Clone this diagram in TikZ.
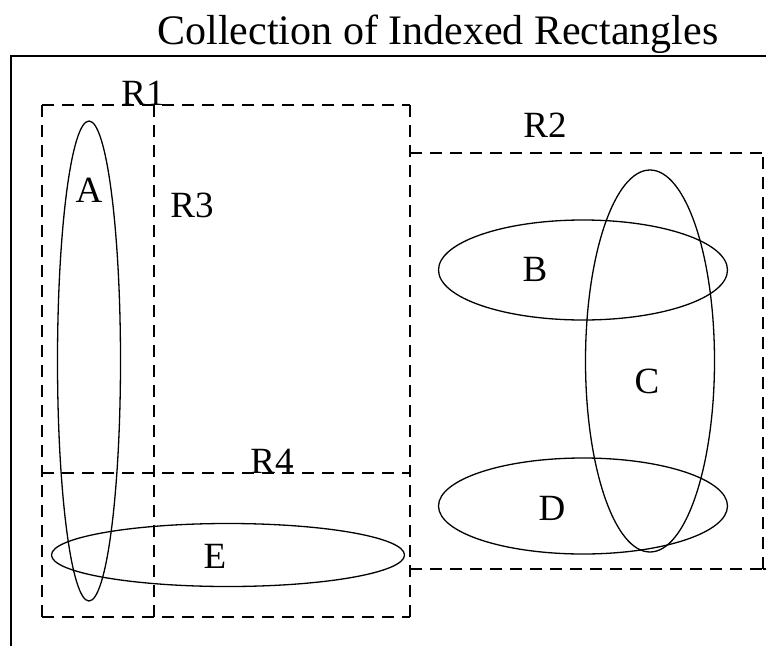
\documentclass[tikz,border=0pt]{standalone}
\usepackage{fontspec}
\setmainfont{Liberation Serif}
\usepackage{tikz}
\usetikzlibrary{shapes.geometric, positioning}
% dashed box drawn edge by edge, every edge from its left or lower end
\newcommand{\regionbox}[5][]{%
  \draw[region, #1] (#2,#5) -- (#2,#3);
  \draw[region] (#4,#5) -- (#4,#3);
  \draw[region] (#2,#3) -- (#4,#3);
  \draw[region] (#2,#5) -- (#4,#5);
}

\begin{document}
\begin{tikzpicture}[x=1pt, y=-1pt,
    region/.style={dash pattern=on 12pt off 8pt, line width=1.2pt},
    blob/.style={draw, ellipse, line width=1.3pt, inner sep=0pt},
    tag/.style={anchor=base, inner sep=0pt, font=\fontsize{37}{40}\selectfont}]
    \useasboundingbox (0,0) rectangle (766,646);
    \node[anchor=base, inner sep=0pt, font=\fontsize{42}{46}\selectfont] (title) at (438,44) {Collection of Indexed Rectangles};
    \draw[line width=1.2pt] (11,646) |- (766,56);
    % rectangles
    \regionbox{42}{105}{410}{617}
    \regionbox{42}{105}{154}{617}
    \regionbox{42}{473}{410}{617}
    \regionbox[dash phase=8pt]{410}{153}{763}{569}
    \draw[region] (763,569) -- (766,569);
    \node[tag] (r1lab) at (143,105) {R1};
    \node[tag] (r2lab) at (545,137) {R2};
    \node[tag] (r3lab) at (192,217) {R3};
    \node[tag] (r4lab) at (272,473) {R4};
    % objects
    \node[blob, minimum width=63, minimum height=480] (a) at (89,361) {};
    \node[blob, minimum width=353, minimum height=63] (e) at (228,555) {};
    \node[blob, minimum width=289, minimum height=100] (b) at (583,270) {};
    \node[blob, minimum width=129, minimum height=382] (c) at (650,361) {};
    \node[blob, minimum width=289, minimum height=96] (d) at (583,506) {};
    \node[tag] (alab) at (89,202) {A};
    \node[tag] (blab) at (535,281) {B};
    \node[tag] (clab) at (647,393) {C};
    \node[tag] (dlab) at (552,520) {D};
    \node[tag] (elab) at (215,568) {E};
\end{tikzpicture}
\end{document}
